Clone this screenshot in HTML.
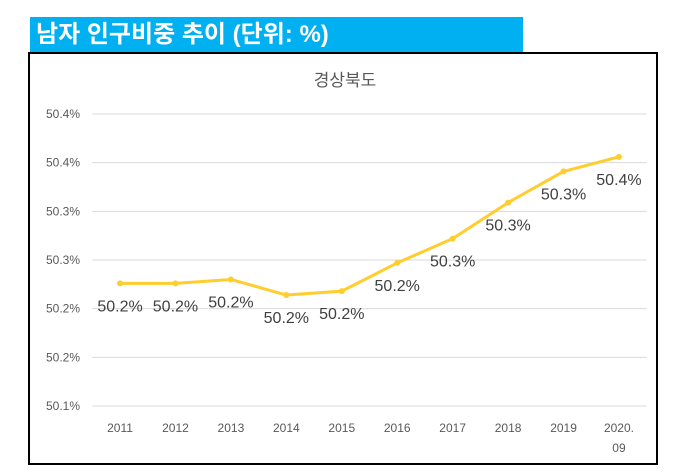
<!DOCTYPE html>
<html><head><meta charset="utf-8">
<style>
body{margin:0;width:674px;height:476px;background:#fff;overflow:hidden;font-family:"Liberation Sans","Noto Sans CJK KR",sans-serif;}
#title{position:absolute;left:30px;top:17px;width:493px;height:35px;background:#00B0F0;color:#fff;font-weight:bold;font-size:24px;line-height:35px;padding-left:6px;box-sizing:border-box;}
#box{position:absolute;left:28px;top:52px;width:630px;height:413px;border:2px solid #000;box-sizing:border-box;}
svg{position:absolute;left:0;top:0;}
</style></head><body>
<div id="title">남자 인구비중 추이 (단위: %)</div>
<div id="box"></div>
<svg id="chart" width="674" height="476"></svg>
<script>
const categories=["2011","2012","2013","2014","2015","2016","2017","2018","2019","2020.|09"];
const values=[50.226,50.226,50.230,50.214,50.218,50.247,50.272,50.309,50.341,50.356];
const valueLabels=["50.2%","50.2%","50.2%","50.2%","50.2%","50.2%","50.3%","50.3%","50.3%","50.4%"];
const tickValues=[50.10,50.15,50.20,50.25,50.30,50.35,50.40];
const tickLabels=["50.1%","50.2%","50.2%","50.3%","50.3%","50.4%","50.4%"];
const yMin=50.10,yMax=50.40;
const svg=document.getElementById('chart');
const NS='http://www.w3.org/2000/svg';
const pTop=114,pBottom=406,pLeft=92.3,pRight=646.7;
const y=v=>pBottom-(v-yMin)/(yMax-yMin)*(pBottom-pTop);
const bw=(pRight-pLeft)/categories.length;
const x=i=>pLeft+(i+0.5)*bw;
function mk(t,a){const e=document.createElementNS(NS,t);for(const k in a)e.setAttribute(k,a[k]);svg.appendChild(e);return e;}
const tt=mk('text',{x:345,y:86,'text-anchor':'middle','font-size':17,fill:'#595959'});
tt.textContent='경상북도';


tickValues.forEach((v,i)=>{
 const g=mk('line',{x1:pLeft,x2:pRight,y1:y(v),y2:y(v),stroke:'#d9d9d9','stroke-width':1});
 
 
 const t=mk('text',{x:80,y:y(v)+4,'text-anchor':'end','font-size':12,fill:'#595959'});
 t.textContent=tickLabels[i];
 
 
});
categories.forEach((c,i)=>{
 c.split('|').forEach((p,j)=>{
  const t=mk('text',{x:x(i),y:432+j*20,'text-anchor':'middle','font-size':12,fill:'#595959'});
  t.textContent=p;
  
  
 });
});
const pl=mk('polyline',{points:values.map((v,i)=>x(i)+','+y(v)).join(' '),fill:'none',stroke:'#FFCD2E','stroke-width':3,'stroke-linejoin':'round'});


values.forEach((v,i)=>{
 const c=mk('circle',{cx:x(i),cy:y(v),r:3,fill:'#FFCD2E'});
 
 
 const t=mk('text',{x:x(i),y:y(v)+28,'text-anchor':'middle','font-size':16,fill:'#404040'});
 t.textContent=valueLabels[i];
 
 
});
</script>
</body></html>
